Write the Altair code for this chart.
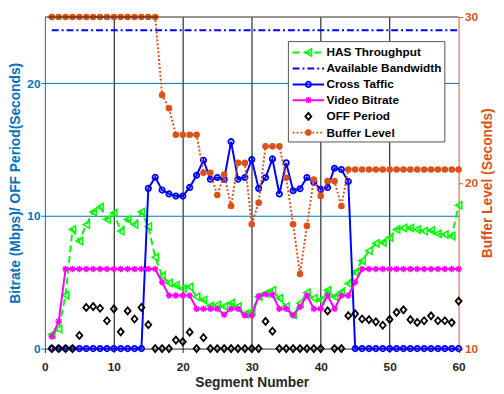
import altair as alt
import pandas as pd

# ---------------- data ----------------
segments = list(range(1, 61))

has_throughput = [1.06, 1.48, 4.03, 8.98, 8.12, 9.35, 10.3, 10.67, 9.73, 10.22,
                  8.86, 9.73, 9.35, 10.3, 9.2, 6.88, 5.5, 4.95, 4.78, 4.53,
                  4.66, 3.91, 3.66, 3.21, 3.29, 3.17, 3.42, 3.17, 2.6, 2.8,
                  3.91, 4.16, 4.4, 3.79, 3.17, 2.55, 3.42, 4.21, 3.79, 3.66,
                  4.4, 3.91, 4.28, 4.9, 5.77, 6.63, 7.37, 7.92, 8.0, 8.37,
                  8.98, 9.1, 9.1, 8.98, 8.86, 8.9, 8.66, 8.6, 8.48, 10.8]

available_bandwidth = [24.0] * 60

cross_traffic = [0, 0, 0, 0, 0, 0, 0, 0, 0, 0,
                 0, 0, 0, 0, 12.08, 12.92, 11.95, 11.66, 11.5, 11.5,
                 12.15, 13.07, 14.2, 12.77, 12.9, 12.77, 15.6, 12.77, 12.9, 14.25,
                 12.08, 12.9, 14.3, 11.66, 14.0, 11.9, 12.05, 12.9, 12.55, 12.0,
                 12.15, 13.6, 13.5, 12.6, 0, 0, 0, 0, 0, 0,
                 0, 0, 0, 0, 0, 0, 0, 0, 0, 0]

video_bitrate = [0.9, 2.05, 6.0, 6.0, 6.0, 6.0, 6.0, 6.0, 6.0, 6.0,
                 6.0, 6.0, 6.0, 6.0, 6.0, 6.0, 5.0, 4.0, 4.0, 4.0,
                 4.0, 3.0, 3.0, 3.0, 3.0, 2.55, 3.0, 3.0, 2.5, 2.5,
                 3.95, 4.1, 4.05, 3.0, 3.0, 2.5, 3.15, 4.0, 3.0, 3.0,
                 4.0, 3.0, 4.0, 4.0, 5.0, 6.0, 6.0, 6.0, 6.0, 6.0,
                 6.0, 6.0, 6.0, 6.0, 6.0, 6.0, 6.0, 6.0, 6.0, 6.0]

off_period = [0, 0, 0, 0, 0.99, 3.1, 3.17, 3.04, 2.1, 2.99,
              1.26, 2.84, 2.23, 3.1, 1.8, 0, 0, 0, 0.64, 0.52,
              1.24, 0, 0.82, 0, 0, 0, 0, 0, 0, 0,
              0, 2.05, 1.31, 0, 0, 0, 0, 0, 0, 0,
              2.84, 0, 0, 2.48, 2.62, 2.23, 2.18, 2.02, 1.76, 2.2,
              2.73, 2.92, 2.18, 1.97, 2.1, 2.47, 2.1, 2.1, 1.96, 3.58]

buffer_level = [30, 30, 30, 30, 30, 30, 30, 30, 30, 30,
                30, 30, 30, 30, 30, 30, 25.3, 24.5, 22.9, 22.9,
                22.9, 22.9, 20.6, 20.6, 19.26, 20.5, 18.6, 21.2, 21.2, 17.5,
                18.8, 22.2, 22.2, 22.2, 20.3, 17.5, 14.5, 17.4, 20.2, 19.2,
                20.1, 20.1, 18.6, 20.8, 20.8, 20.8, 20.8, 20.8, 20.8, 20.8,
                20.8, 20.8, 20.8, 20.8, 20.8, 20.8, 20.8, 20.8, 20.8, 20.8]

legend_labels = ["HAS Throughput", "Available Bandwidth", "Cross Taffic",
                 "Video Bitrate", "OFF Period", "Buffer Level"]

x_ticks = [0, 10, 20, 30, 40, 50, 60]
left_ticks = [0, 10, 20]
right_ticks = [10, 20, 30]

# ---------------- styling ----------------
FONT = "Liberation Sans"
GREEN = "#00FF00"
BLUE = "#0000FF"
MAGENTA = "#FF00FF"
ORANGE = "#D95319"
LBLUE = "#0072BD"
DARK = "#262626"
W, H = 420.5, 337

LEFT_TITLE = "Bitrate (Mbps)/ OFF Period(Seconds)"
DIAMOND = "M0,-1L0.85,0L0,1L-0.85,0Z"
ASTERISK = "M-1,0L1,0M0,-1L0,1M-0.72,-0.72L0.72,0.72M-0.72,0.72L0.72,-0.72"

df = pd.DataFrame({
    "seg": segments,
    "has": has_throughput,
    "bw": available_bandwidth,
    "cross": cross_traffic,
    "video": video_bitrate,
    "off": off_period,
    "buf": buffer_level,
})

x_enc = alt.X("seg:Q",
              scale=alt.Scale(domain=[0, 60], nice=False, zero=False),
              axis=alt.Axis(values=x_ticks, title="Segment Number", grid=True,
                            gridColor="#000000", gridWidth=1,
                            gridOpacity={"condition": {"test": "datum.value == 0 || datum.value == 60", "value": 0}, "value": 1},
                            domainColor=DARK, tickColor=DARK, labelColor=DARK,
                            titleColor=DARK, labelPadding=9, titlePadding=4,
                            labelFlush=False, labelOverlap=False, format="d"))


def y_left(field):
    return alt.Y(f"{field}:Q",
                 scale=alt.Scale(domain=[0, 25], nice=False, zero=False),
                 axis=alt.Axis(orient="left", values=left_ticks, title=LEFT_TITLE,
                               grid=True, gridColor=LBLUE, gridWidth=1,
                               gridOpacity={"condition": {"test": "datum.value == 0", "value": 0}, "value": 1},
                               domainColor=LBLUE, tickColor=LBLUE, labelColor=LBLUE,
                               titleColor=LBLUE, labelPadding=1, titlePadding=4,
                               labelFlush=False, format="d"))


base = alt.Chart(df)

has_c = base.mark_line(color=GREEN, strokeWidth=2, strokeDash=[7, 4],
                       point=alt.OverlayMarkDef(shape="triangle-left", filled=False,
                                                stroke=GREEN, fill=None, size=55,
                                                strokeWidth=1.6, opacity=1)
                       ).encode(x=x_enc, y=y_left("has"))

bw_c = base.mark_line(color=BLUE, strokeWidth=2, strokeDash=[7, 3, 2, 3]
                      ).encode(x=x_enc, y=y_left("bw"))

cross_c = base.mark_line(color=BLUE, strokeWidth=2,
                         point=alt.OverlayMarkDef(shape="circle", filled=False,
                                                  stroke=BLUE, size=30,
                                                  strokeWidth=1.8, opacity=1)
                         ).encode(x=x_enc, y=y_left("cross"))

video_c = base.mark_line(color=MAGENTA, strokeWidth=2,
                         point=alt.OverlayMarkDef(shape=ASTERISK, filled=False,
                                                  stroke=MAGENTA, size=42,
                                                  strokeWidth=1.5, opacity=1)
                         ).encode(x=x_enc, y=y_left("video"))

off_c = base.mark_point(shape=DIAMOND, filled=False, stroke="#000000", size=50,
                        strokeWidth=1.8, opacity=1
                        ).encode(x=x_enc, y=y_left("off"))

left_group = alt.layer(has_c, bw_c, cross_c, video_c, off_c)

y_right = alt.Y("buf:Q",
                scale=alt.Scale(domain=[10, 30], nice=False, zero=False),
                axis=alt.Axis(orient="right", values=right_ticks,
                              title="Buffer Level (Seconds)", grid=False,
                              domainColor=ORANGE, tickColor=ORANGE, labelColor=ORANGE,
                              titleColor=ORANGE, titleAngle=270, titleBaseline="top",
                              labelPadding=2, titlePadding=3, labelFlush=False,
                              format="d"))

buf_c = base.mark_line(color=ORANGE, strokeWidth=2, strokeDash=[2, 2],
                       point=alt.OverlayMarkDef(shape="circle", filled=True,
                                                fill=ORANGE, size=45, opacity=1)
                       ).encode(x=x_enc, y=y_right)

# ---------------- frame + legend ----------------
one = pd.DataFrame({"k": [0]})

top_border = alt.Chart(one).mark_rule(color=DARK, strokeWidth=1).encode(
    x=alt.value(0), x2=alt.value(W), y=alt.value(0))

LB_X0, LB_X1, LB_Y0, LB_Y1 = 247.5, 406.5, 25, 127
LX0, LX1, LXM, TX = 251.8, 283.8, 267.8, 286.2
ROWS = [36, 52.3, 68.5, 84.5, 101, 117.5]

legend_layers = [alt.Chart(one).mark_rect(fill="white", stroke="#555555", strokeWidth=1).encode(
    x=alt.value(LB_X0), x2=alt.value(LB_X1), y=alt.value(LB_Y0), y2=alt.value(LB_Y1))]


def leg_line(y, color, dash=None):
    kw = dict(color=color, strokeWidth=2)
    if dash:
        kw["strokeDash"] = dash
    return alt.Chart(one).mark_rule(**kw).encode(
        x=alt.value(LX0), x2=alt.value(LX1), y=alt.value(y))


def leg_point(y, **kw):
    return alt.Chart(one).mark_point(opacity=1, **kw).encode(
        x=alt.value(LXM), y=alt.value(y))


legend_layers += [
    leg_line(ROWS[0], GREEN, [7, 4]),
    leg_point(ROWS[0], shape="triangle-left", filled=False, stroke=GREEN, size=55, strokeWidth=1.6),
    leg_line(ROWS[1], BLUE, [7, 3, 2, 3]),
    leg_line(ROWS[2], BLUE),
    leg_point(ROWS[2], shape="circle", filled=False, stroke=BLUE, size=30, strokeWidth=1.8),
    leg_line(ROWS[3], MAGENTA),
    leg_point(ROWS[3], shape=ASTERISK, filled=False, stroke=MAGENTA, size=42, strokeWidth=1.5),
    leg_point(ROWS[4], shape=DIAMOND, filled=False, stroke="#000000", size=50, strokeWidth=1.8),
    leg_line(ROWS[5], ORANGE, [2, 2]),
    leg_point(ROWS[5], shape="circle", filled=True, fill=ORANGE, size=45),
]
for label, ry in zip(legend_labels, ROWS):
    legend_layers.append(
        alt.Chart(one).mark_text(align="left", baseline="middle", font=FONT,
                                 fontSize=12, fontWeight="bold", color="#000000").encode(
            x=alt.value(TX), y=alt.value(ry), text=alt.value(label)))

chart = alt.layer(left_group, buf_c, top_border, *legend_layers).resolve_scale(
    y="independent"
).properties(
    width=W, height=H,
    autosize=alt.AutoSizeParams(type="none"),
    padding={"left": 37.5, "top": 6, "right": 38, "bottom": 43},
).configure_view(stroke=None).configure_axis(
    labelFont=FONT, labelFontWeight="bold", labelFontSize=12,
    titleFont=FONT, titleFontWeight="bold", titleFontSize=14,
    tickSize=4, tickWidth=1, domainWidth=1,
)

chart.save("out.html", embed_options={"renderer": "svg", "actions": False})
